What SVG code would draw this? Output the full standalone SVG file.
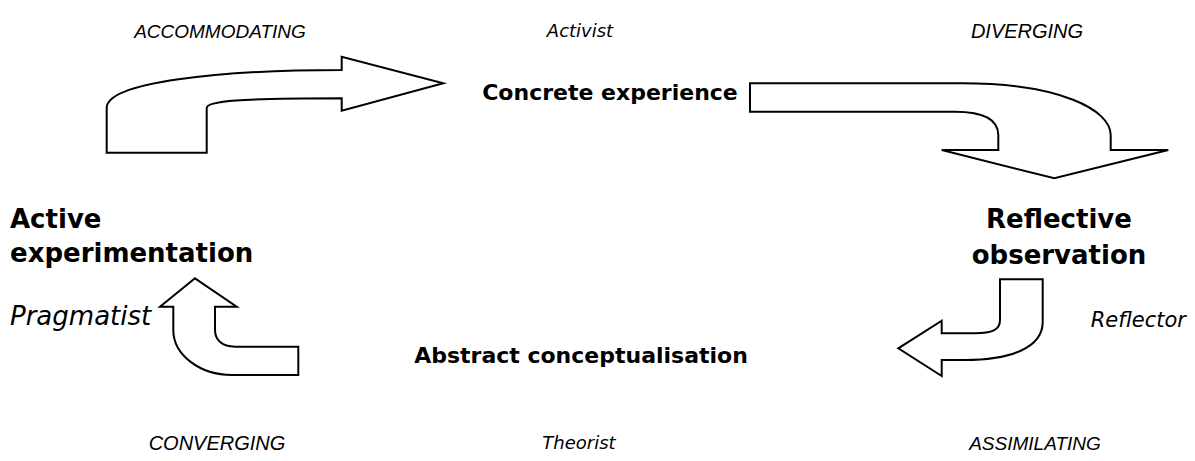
<svg xmlns="http://www.w3.org/2000/svg" width="1195" height="461" viewBox="0 0 1195 461">
<style>
.arrow{fill:#fff;stroke:#000;stroke-width:2;stroke-linejoin:miter}
.caps{font-family:"Liberation Sans",Arial,sans-serif;font-style:italic;fill:#000}
.style{font-family:"DejaVu Sans",Verdana,sans-serif;font-style:italic;fill:#000}
.stage{font-family:"DejaVu Sans",Verdana,sans-serif;font-weight:bold;fill:#000}
.big{font-size:26px}
.mid{font-size:22px}
</style>
<rect width="1195" height="461" fill="#fff"/>
<g id="connectors">
<path class="arrow" d="M106.7,152.7 L106.7,108 C106.7,82 220,70 341.7,70 L341.7,56.7 L443.3,83.3 L341.7,110.7 L341.7,98.3 C240,98.3 206.7,101 206.7,108 L206.7,152.7 Z"/>
<path class="arrow" d="M750,83.3 L961.7,83.3 C1060,83.3 1110.7,110 1110.7,135 L1110.7,150 L1168.3,150 L1054.3,178.3 L941.7,150 L998.3,150 L998.3,135 C998.3,120 985,111.7 955,111.7 L750,111.7 Z"/>
<path class="arrow" d="M1000,279.3 L1042.7,279.3 L1042.7,322 C1042.7,348 1010,360 965,360 L941.7,360 L941.7,376 L898.3,348.3 L941.7,320.7 L941.7,333.3 L975,333.3 C992,333.3 1000,330 1000,320 Z"/>
<path class="arrow" d="M195,278.3 L236.7,306.7 L215,306.7 L215,330 C215,340 222,346.7 235,346.7 L298.3,346.7 L298.3,375 L232,375 C200,375 173.3,355 173.3,330 L173.3,306.7 L160,306.7 Z"/>
</g>
<g id="node-concrete"><text class="stage mid" x="610" y="100" text-anchor="middle">Concrete experience</text></g>
<g id="node-reflective"><text class="stage big" x="1059" y="228" text-anchor="middle">Reflective</text><text class="stage big" x="1059" y="264" text-anchor="middle">observation</text></g>
<g id="node-abstract"><text class="stage mid" x="581" y="363" text-anchor="middle">Abstract conceptualisation</text></g>
<g id="node-active"><text class="stage big" x="10" y="228">Active</text><text class="stage big" x="10" y="262">experimentation</text></g>
<g id="labels">
<text class="caps" x="220" y="38" text-anchor="middle" font-size="19">ACCOMMODATING</text>
<text class="style" x="580" y="37" text-anchor="middle" font-size="18">Activist</text>
<text class="caps" x="1027" y="38" text-anchor="middle" font-size="20">DIVERGING</text>
<text class="style big" x="10" y="325">Pragmatist</text>
<text class="style" x="1186" y="327" text-anchor="end" font-size="21">Reflector</text>
<text class="caps" x="217" y="450" text-anchor="middle" font-size="20">CONVERGING</text>
<text class="style" x="579" y="449" text-anchor="middle" font-size="18">Theorist</text>
<text class="caps" x="1035" y="450" text-anchor="middle" font-size="19">ASSIMILATING</text>
</g>
</svg>
